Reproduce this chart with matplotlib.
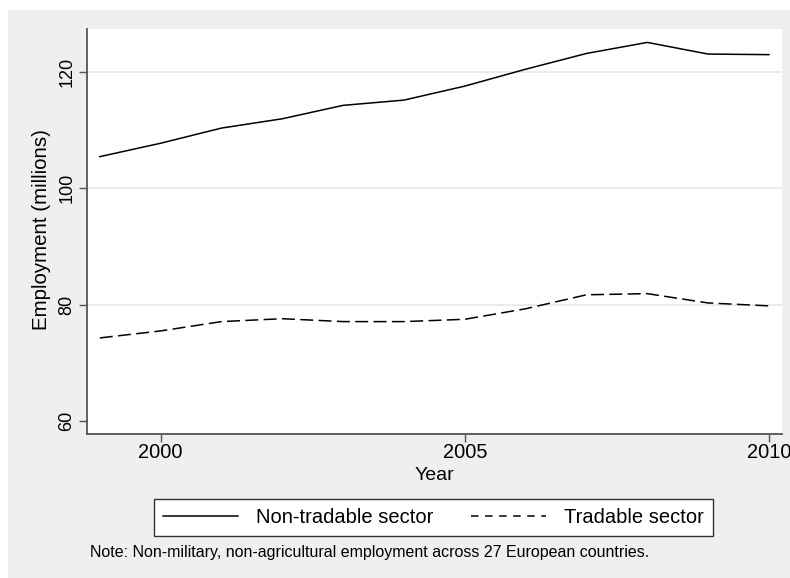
import matplotlib
matplotlib.use("Agg")
import matplotlib.pyplot as plt
from matplotlib.patches import Rectangle
from matplotlib.lines import Line2D

plt.rcParams['font.family'] = ['Liberation Sans', 'DejaVu Sans']

years = [1999, 2000, 2001, 2002, 2003, 2004, 2005, 2006, 2007, 2008, 2009, 2010]
non_tradable = [105.4, 107.7, 110.3, 111.9, 114.2, 115.1, 117.5, 120.4, 123.1, 125.0, 123.0, 122.9]
tradable = [74.3, 75.5, 77.1, 77.6, 77.1, 77.1, 77.5, 79.3, 81.7, 81.9, 80.3, 79.8]
series_labels = ["Non-tradable sector", "Tradable sector"]
x_ticks = [2000, 2005, 2010]
y_ticks = [60, 80, 100, 120]
x_label = "Year"
y_label = "Employment (millions)"
note = "Note: Non-military, non-agricultural employment across 27 European countries."

W, H = 790, 578
fig = plt.figure(figsize=(W / 100, H / 100), dpi=100, facecolor='white')
fig.patches.append(Rectangle((8 / W, 0), 1 - 8 / W, 1 - 10 / H, transform=fig.transFigure,
                             facecolor='#efefef', edgecolor='none', zorder=-10))

ax = fig.add_axes([87 / W, 1 - 433.7 / H, (781.7 - 87) / W, (433.7 - 29) / H])
ax.set_facecolor('white')

ax.plot(years, non_tradable, color='black', lw=1.1, label=series_labels[0])
ax.plot(years, tradable, color='black', lw=1.1, ls=(0, (8.5, 3.5)), label=series_labels[1])

ax.set_xlim(1998.79, 2010.21)
ax.set_ylim(57.87, 127.3)
ax.set_xticks(x_ticks)
ax.set_yticks(y_ticks)

for s in ['top', 'right']:
    ax.spines[s].set_visible(False)
for s in ['left', 'bottom']:
    ax.spines[s].set_color('#555555')
    ax.spines[s].set_linewidth(1.3)

ax.tick_params(axis='both', direction='out', length=5.5, width=1, color='#555555',
               labelcolor='black')
ax.tick_params(axis='x', pad=1.2, labelsize=14.4)
ax.tick_params(axis='y', pad=2.7, labelsize=13)
for lab in ax.get_yticklabels():
    lab.set_rotation(90)
    lab.set_va('center')

ax.yaxis.grid(True, color='#e6e6e6', lw=1.1)
ax.set_axisbelow(True)
gl = ax.yaxis.get_gridlines()
gl[0].set_visible(False)

ax.set_xlabel(x_label, fontsize=14)
ax.xaxis.set_label_coords(0.5, -(475 - 433.7) / (433.7 - 29), transform=ax.transAxes)
ax.xaxis.label.set_va('center')
ax.set_ylabel(y_label, fontsize=14.8)
ax.yaxis.set_label_coords(-(87 - 41.6) / (781.7 - 87), (433.7 - 230) / (433.7 - 29),
                          transform=ax.transAxes)
ax.yaxis.label.set_va('center')

h1 = Line2D([], [], color='black', lw=1.1)
h2 = Line2D([], [], color='black', lw=1.1, ls=(0, (4.9, 4.3)))
leg = fig.legend(handles=[h1, h2], labels=series_labels, loc='center',
                 bbox_to_anchor=(433.5 / W, 1 - 517.5 / H), ncol=2, fontsize=14.5,
                 frameon=True, fancybox=False, edgecolor='#333333', facecolor='white',
                 framealpha=1, handlelength=3.7, handletextpad=0.9, columnspacing=1.9,
                 borderpad=0.45, borderaxespad=0)
leg.get_frame().set_linewidth(1.0)

fig.text(90 / W, 1 - 553 / H, note, fontsize=11.55, ha='left', va='center')

fig.savefig('out.png', dpi=100, facecolor='white')
